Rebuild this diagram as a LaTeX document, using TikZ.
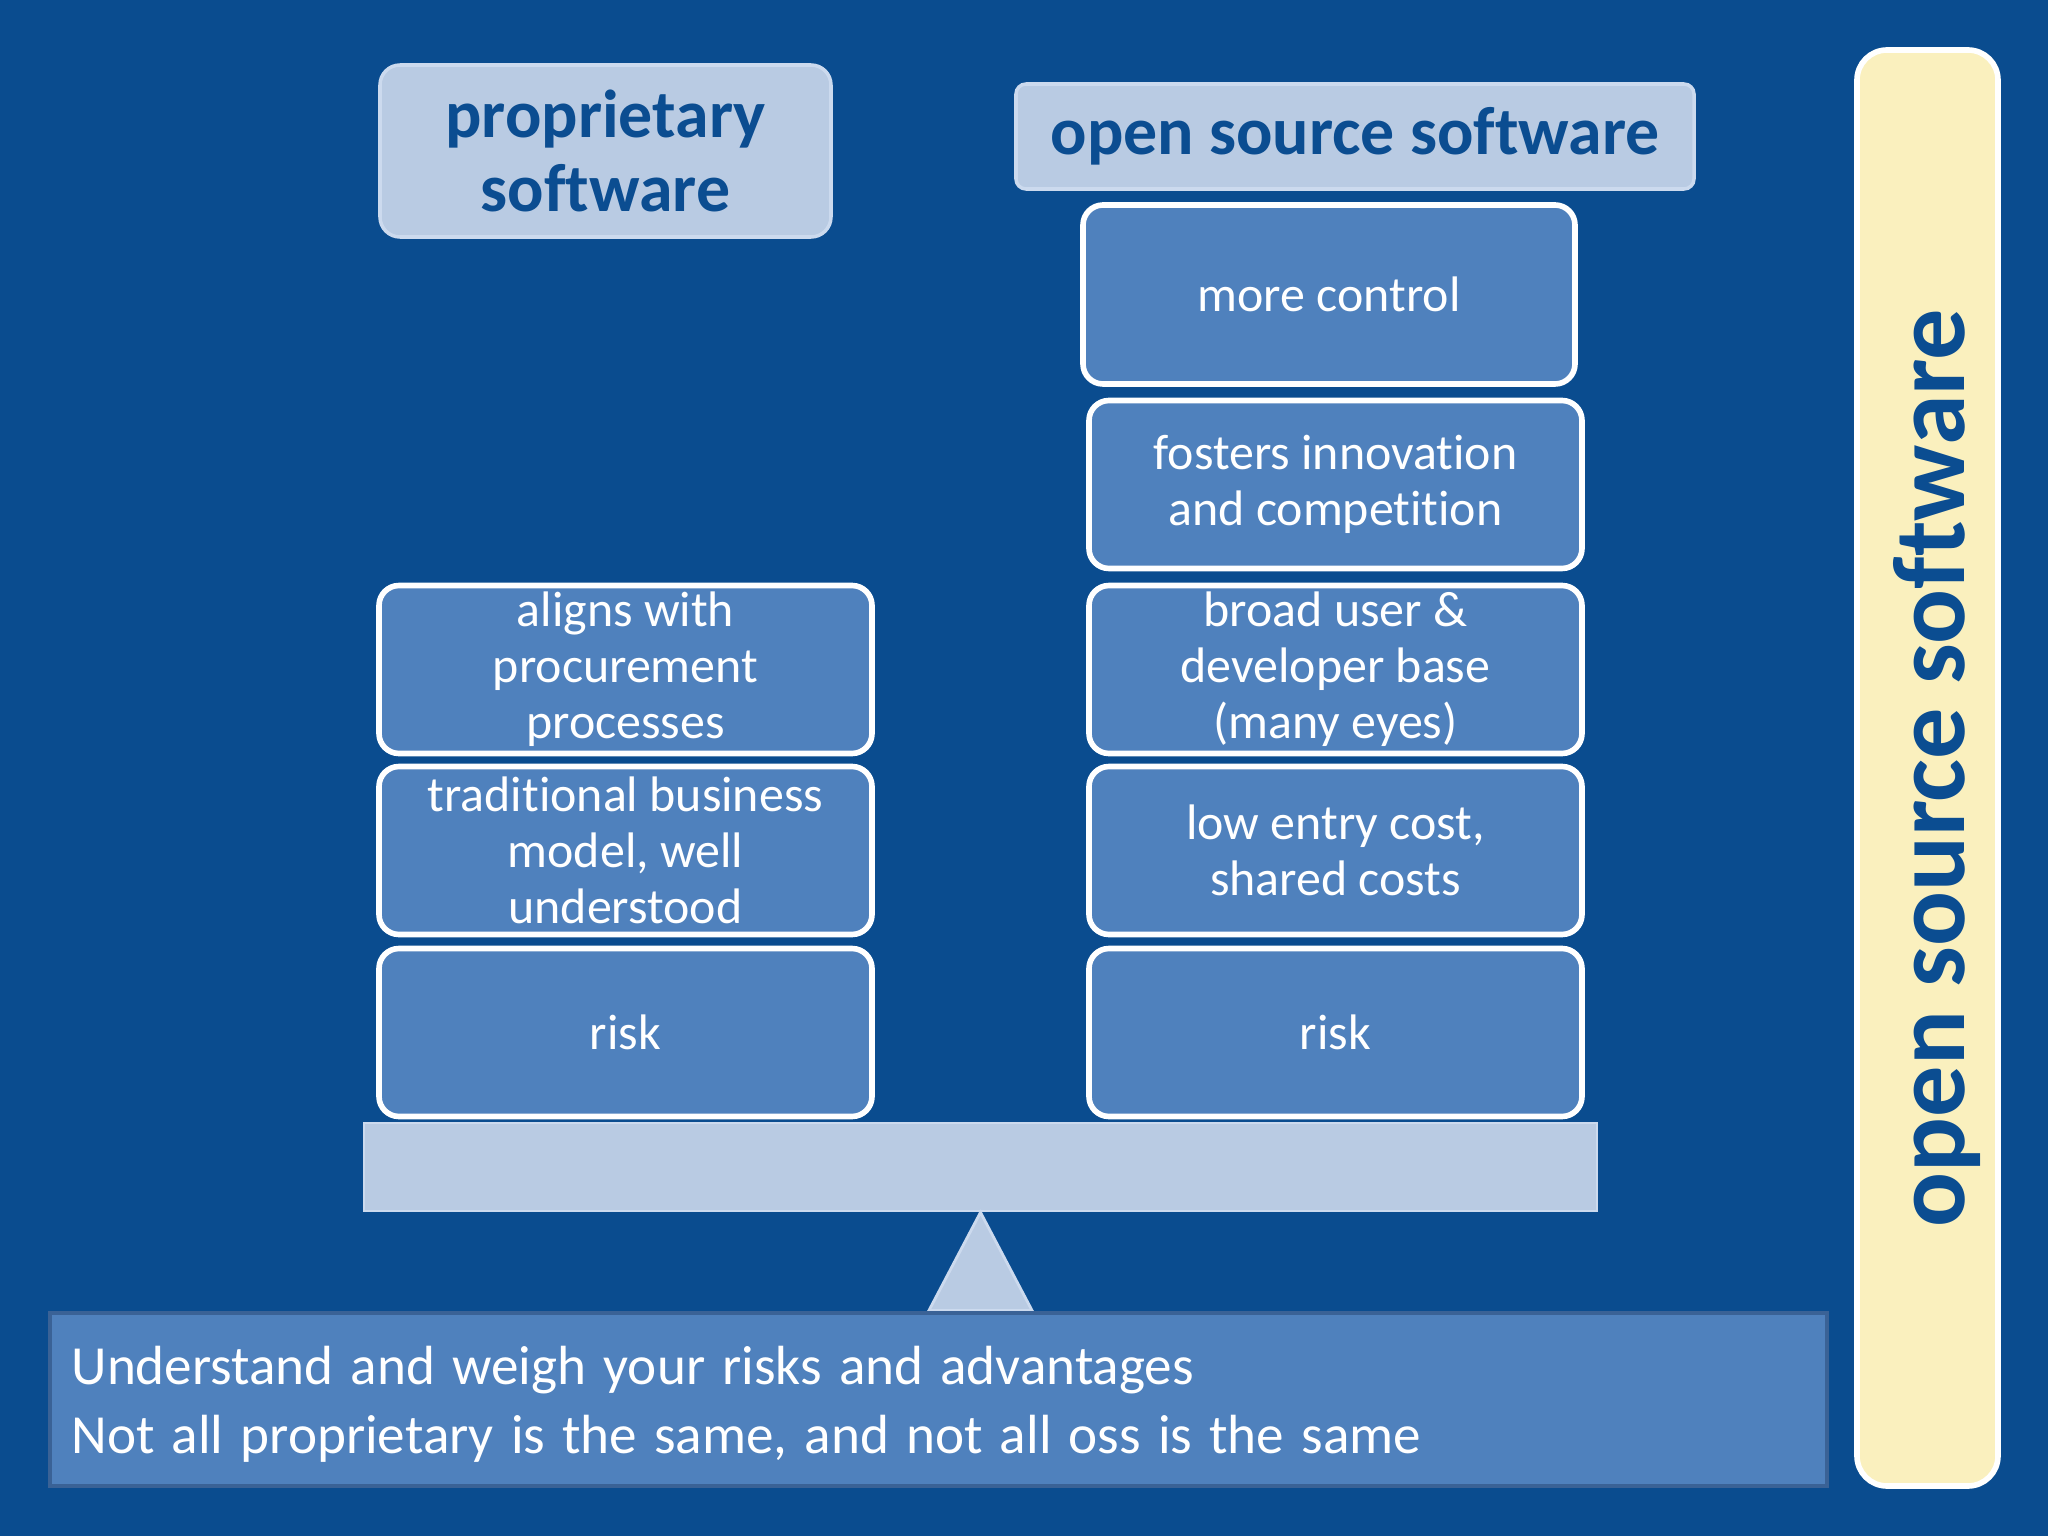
\documentclass[tikz,border=0pt]{standalone}
\usepackage{fontspec}
\setmainfont{Carlito}[Ligatures=NoCommon]
\definecolor{slideblue}{RGB}{10,76,143}
\definecolor{boxblue}{RGB}{79,129,189}
\definecolor{paleblue}{RGB}{185,203,227}
\definecolor{paleedge}{RGB}{204,218,238}
\definecolor{inkblue}{RGB}{11,77,145}
\definecolor{creme}{RGB}{250,240,190}
\definecolor{footedge}{RGB}{58,98,150}
\newcommand{\footfont}{\fontsize{15.7}{19.7}\selectfont\frenchspacing\spaceskip=0.31em\relax}
\usetikzlibrary{calc}
\tikzstyle{header} = [
    rectangle,
    rounded corners = 0.2cm,
    draw = paleedge,
    line width = 1pt,
    fill = paleblue,
    text = inkblue,
    align = center,
    inner sep = 0pt,
    font = \fontsize{19.3}{21.2}\selectfont\bfseries
]
\tikzstyle{argument} = [
    rectangle,
    rounded corners = 0.2cm,
    draw = white,
    line width = 1.6pt,
    fill = boxblue,
    text = white,
    minimum width = 4.93cm,
    minimum height = 1.68cm,
    align = center,
    inner sep = 0pt,
    font = \fontsize{14.2}{15.9}\selectfont
]

\begin{document}
\begin{tikzpicture}

        %% Slide
        \fill[slideblue] (0,0) rectangle (20.48,-15.36);
        \useasboundingbox (0,0) rectangle (20.48,-15.36);

        %% Headings
        \node (proprietary) [header, minimum width=4.51cm, minimum height=1.72cm] at (6.055,-1.51) {proprietary\\software};
        \node (opensource) [header, rounded corners=0.1cm, minimum width=6.78cm, minimum height=1.05cm] at (13.55,-1.365) {open source software};

        %% Left pan
        \node (procurement) [argument] at (6.255,-6.695) {aligns with\\procurement\\processes};
        \node (business)    [argument] at (6.255,-8.505) {traditional business\\model, well\\understood};
        \node (leftrisk)    [argument] at (6.255,-10.325) {risk};

        %% Right pan
        \node (control)     [argument, minimum width=4.92cm, minimum height=1.79cm] at (13.29,-2.945) {more control};
        \node (innovation)  [argument] at (13.355,-4.845) {fosters innovation\\and competition};
        \node (userbase)    [argument] at (13.355,-6.695) {broad user \&\\developer base\\(many eyes)};
        \node (entrycost)   [argument] at (13.355,-8.505) {low entry cost,\\shared costs};
        \node (rightrisk)   [argument] at (13.355,-10.325) {risk};

        %% Scale
        \node (beam) [rectangle, fill=paleblue, draw=paleedge, line width=0.8pt, minimum width=12.33cm, minimum height=0.88cm, inner sep=0pt] at (9.805,-11.67) {};
        \filldraw[fill=paleblue, draw=paleedge, line width=0.8pt] (beam.south) -- ++(-0.515,-0.98) -- ++(1.03,0) -- cycle;

        %% Footer
        \node (summary) [rectangle, fill=boxblue, draw=footedge, line width=1.2pt, minimum width=17.77cm, minimum height=1.73cm] at (9.385,-13.995) {};
        \node (summarytext) [anchor=west, align=left, inner sep=0pt, text=white, font=\footfont] at ([xshift=0.23cm, yshift=-0.05cm]summary.west) {Understand and weigh your risks and advantages\\Not all proprietary is the same, and not all oss is the same};

        %% Side bar
        \node (sidebar) [rectangle, rounded corners=0.3cm, fill=creme, draw=white, line width=1.6pt, minimum width=1.41cm, minimum height=14.36cm] at (19.275,-7.68) {};
        \node (sidelabel) [rotate=90, text=inkblue, inner sep=0pt, font=\fontsize{29.1}{30}\selectfont\bfseries] at (19.37,-7.68) {open source software};

    \end{tikzpicture}
\end{document}
